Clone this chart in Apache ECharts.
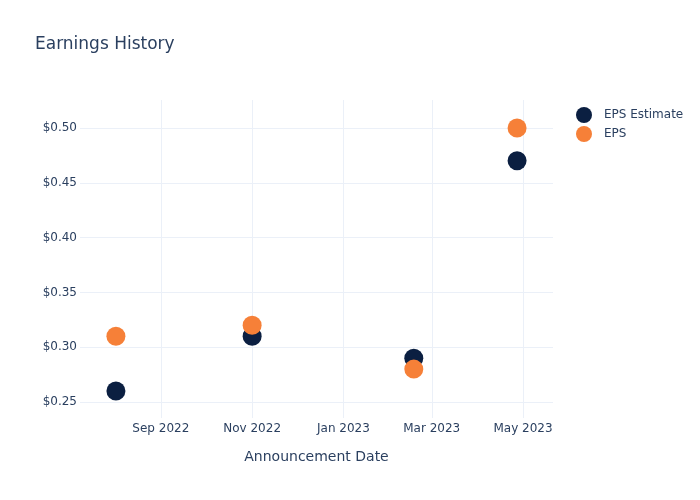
<!DOCTYPE html>
<html>
<head>
<meta charset="utf-8">
<script src="https://cdn.jsdelivr.net/npm/echarts@6/dist/echarts.min.js"></script>
<style>html,body{margin:0;padding:0;background:#fff}#c{width:700px;height:500px}</style>
</head>
<body>
<div id="c"></div>
<script>
const dates = ['2022-08-02', '2022-11-01', '2023-02-17', '2023-04-27'];
const epsEstimate = [0.26, 0.31, 0.29, 0.47];
const eps = [0.31, 0.32, 0.28, 0.50];
const yTicks = [0.25, 0.30, 0.35, 0.40, 0.45, 0.50];
const xTicks = ['2022-09-01', '2022-11-01', '2023-01-01', '2023-03-01', '2023-05-01'];
const monthNames = ['Jan','Feb','Mar','Apr','May','Jun','Jul','Aug','Sep','Oct','Nov','Dec'];

const ts = s => { const [y,m,d] = s.split('-').map(Number); return Date.UTC(y, m-1, d); };
const font = 'DejaVu Sans, Verdana, sans-serif';
const textColor = '#2a3f5f';
const gridColor = '#ebf0f8';

const chart = echarts.init(document.getElementById('c'), null, {renderer: 'canvas'});
chart.setOption({
  animation: false,
  backgroundColor: '#fff',
  textStyle: {fontFamily: font},
  title: {
    text: 'Earnings History', left: 30, top: 31,
    textStyle: {fontFamily: font, fontSize: 17, fontWeight: 'normal', color: textColor}
  },
  legend: {
    orient: 'vertical', left: 571, top: 102, itemGap: 3,
    icon: 'circle', itemWidth: 30, itemHeight: 16, symbolKeepAspect: true,
    textStyle: {fontFamily: font, fontSize: 12, color: textColor},
    data: ['EPS Estimate', 'EPS']
  },
  grid: {left: 80, right: 147, top: 100, bottom: 82, containLabel: false},
  xAxis: {
    type: 'value',
    min: ts('2022-07-09'), max: ts('2023-05-21'),
    name: 'Announcement Date', nameLocation: 'middle', nameGap: 32,
    nameTextStyle: {fontFamily: font, fontSize: 14, color: textColor},
    axisLine: {show: false},
    axisTick: {show: false, customValues: xTicks.map(ts)},
    axisLabel: {
      customValues: xTicks.map(ts),
      fontFamily: font, fontSize: 12, color: textColor, margin: 5,
      formatter: v => { const d = new Date(v); return monthNames[d.getUTCMonth()] + ' ' + d.getUTCFullYear(); }
    },
    splitLine: {show: true, lineStyle: {color: gridColor, width: 1}}
  },
  yAxis: {
    type: 'value',
    min: 0.2354, max: 0.5255,
    axisLine: {show: false},
    axisTick: {show: false, customValues: yTicks},
    axisLabel: {
      customValues: yTicks,
      fontFamily: font, fontSize: 12, color: textColor, margin: 3,
      formatter: v => '$' + v.toFixed(2)
    },
    splitLine: {show: true, lineStyle: {color: gridColor, width: 1}}
  },
  series: [
    {
      name: 'EPS Estimate', type: 'scatter', symbolSize: 19,
      itemStyle: {color: '#0b1f41', opacity: 1},
      data: dates.map((d, i) => [ts(d), epsEstimate[i]])
    },
    {
      name: 'EPS', type: 'scatter', symbolSize: 19,
      itemStyle: {color: '#f68038', opacity: 1},
      data: dates.map((d, i) => [ts(d), eps[i]])
    }
  ]
});
</script>
</body>
</html>
